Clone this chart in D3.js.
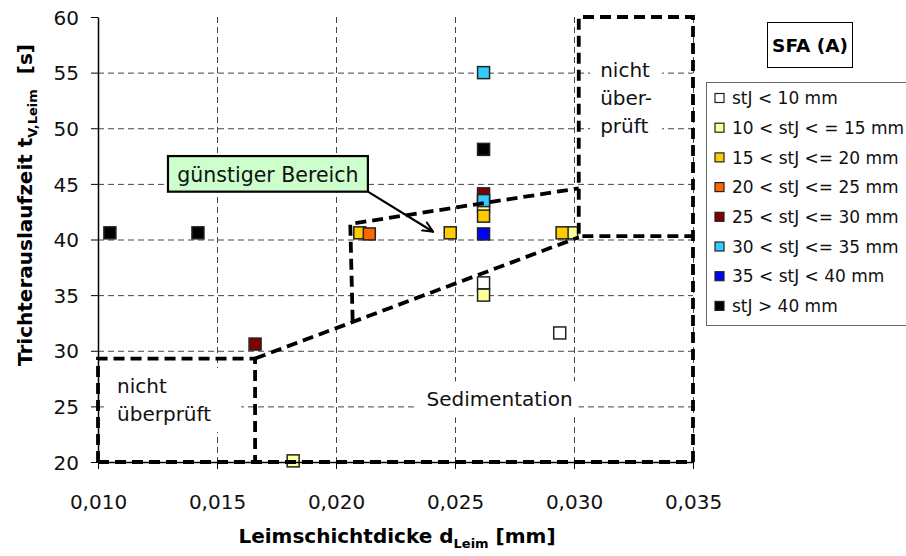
<!DOCTYPE html>
<html>
<head>
<meta charset="utf-8">
<script src="https://cdn.jsdelivr.net/npm/d3@7"></script>
<style>
  body { margin: 0; background: #fff; }
  svg { font-family: "DejaVu Sans", sans-serif; }
</style>
</head>
<body>
<div id="chart"></div>
<script>
// tick values
const X_TICKS = [0.010, 0.015, 0.020, 0.025, 0.030, 0.035];
const Y_TICKS = [20, 25, 30, 35, 40, 45, 50, 55, 60];

// legend classes (stJ)
const CLASSES = [
  "stJ < 10 mm",
  "10 < stJ < = 15 mm",
  "15 < stJ <= 20 mm",
  "20 < stJ <= 25 mm",
  "25 < stJ <= 30 mm",
  "30 < stJ <= 35 mm",
  "35 < stJ < 40 mm",
  "stJ > 40 mm",
];
const CLASS_COLORS = ["#ffffff", "#ffff99", "#ffcc00", "#ff6600", "#800000", "#33ccff", "#0000ff", "#000000"];

// measured points [d_Leim, t_V,Leim] per class
const STJ_0_10 = [[0.0262, 36.1], [0.0294, 31.6]];
const STJ_10_15 = [[0.0182, 20.1], [0.0262, 35.0], [0.0262, 43.0], [0.0299, 40.6]];
const STJ_15_20 = [[0.0210, 40.6], [0.0248, 40.6], [0.0262, 42.1], [0.0295, 40.6]];
const STJ_20_25 = [[0.0214, 40.5]];
const STJ_25_30 = [[0.0166, 30.6], [0.0262, 44.1]];
const STJ_30_35 = [[0.0262, 55.0], [0.0262, 43.5]];
const STJ_35_40 = [[0.0262, 40.5]];
const STJ_40_UP = [[0.0105, 40.6], [0.0142, 40.6], [0.0262, 48.1]];
const SERIES = [STJ_0_10, STJ_10_15, STJ_15_20, STJ_20_25, STJ_25_30, STJ_30_35, STJ_35_40, STJ_40_UP];

// region boundaries (data coordinates)
const BOUND_LEFT_BOX = [[0.0100, 20.0], [0.0100, 29.3], [0.0166, 29.3], [0.0166, 20.0]];
const BOUND_BOTTOM = [[0.0100, 20.0], [0.0350, 20.0]];
const BOUND_RIGHT_BOX = [[0.0350, 20.0], [0.0350, 60.0], [0.0302, 60.0], [0.0302, 40.3], [0.0350, 40.3]];
const BOUND_LOWER = [[0.0166, 29.3], [0.0302, 40.2]];
const BOUND_UPPER = [[0.0207, 32.7], [0.0206, 41.4], [0.0302, 44.6]];

// annotations
const ARROW = [[0.02134, 44.3], [0.02408, 40.7]];
const LABEL_BOX = [0.01294, 47.5, 0.02134, 44.3]; // x0, y0, x1, y1
const TEXT_LEFT = { x: 0.0108, y: 26.2, lines: ["nicht", "überprüft"] };
const TEXT_RIGHT = { x: 0.0311, y: 54.6, lines: ["nicht", "über-", "prüft"] };
const TEXT_SED = { x: 0.0238, y: 25.0, lines: ["Sedimentation"] };

const W = 906, H = 556;
const X0 = 98, X1 = 693, Y0 = 17, Y1 = 462;

const svg = d3.select("#chart").append("svg").attr("width", W).attr("height", H);
svg.append("rect").attr("width", W).attr("height", H).attr("fill", "#fff");

const x = d3.scaleLinear().domain([0.010, 0.035]).range([X0, X1]);
const y = d3.scaleLinear().domain([20, 60]).range([Y1, Y0]);
const loc = d3.formatLocale({ decimal: ",", thousands: ".", grouping: [3], currency: ["", " €"] });

// gridlines
const grid = svg.append("g").attr("stroke", "#444").attr("stroke-width", 1).attr("stroke-dasharray", "6 4");
grid.selectAll(".hg").data(Y_TICKS.filter(d => d > 20 && d < 60)).join("line")
  .attr("x1", X0).attr("x2", X1).attr("y1", d => y(d) + 0.5).attr("y2", d => y(d) + 0.5);
grid.selectAll(".vg").data(X_TICKS.filter(d => d > 0.010)).join("line")
  .attr("y1", Y0).attr("y2", Y1).attr("x1", d => x(d) + 0.5).attr("x2", d => x(d) + 0.5);

// white backed text blocks
function textBlock(t, pad) {
  const g = svg.append("g");
  const bg = g.append("rect").attr("fill", "#fff");
  const txt = g.append("text").attr("font-size", 20).attr("fill", "#111");
  t.lines.forEach((l, i) => {
    txt.append("tspan").attr("x", x(t.x)).attr("y", y(t.y) + i * 28).text(l);
  });
  const b = txt.node().getBBox();
  bg.attr("x", b.x - pad[0]).attr("y", b.y - pad[1]).attr("width", b.width + pad[0] + pad[2]).attr("height", b.height + pad[1] * 2);
}
textBlock(TEXT_LEFT, [12, 6, 30]);
textBlock(TEXT_RIGHT, [10, 6, 10]);
textBlock(TEXT_SED, [10, 6, 6]);

// points
const SIZE = 12;
SERIES.forEach((s, i) => {
  svg.append("g").selectAll("rect").data(s).join("rect")
    .attr("x", d => x(d[0]) - SIZE / 2).attr("y", d => y(d[1]) - SIZE / 2)
    .attr("width", SIZE).attr("height", SIZE)
    .attr("fill", CLASS_COLORS[i]).attr("stroke", "#222").attr("stroke-width", 1.5);
});

// region boundaries
const line = d3.line().x(d => x(d[0])).y(d => y(d[1]));
svg.append("g").selectAll("path")
  .data([BOUND_BOTTOM, BOUND_LEFT_BOX, BOUND_RIGHT_BOX, BOUND_LOWER, BOUND_UPPER])
  .join("path")
  .attr("d", line).attr("fill", "none").attr("stroke", "#000")
  .attr("stroke-width", 3.8).attr("stroke-dasharray", "11 6");

// arrow + label
svg.append("defs").append("marker").attr("id", "arr")
  .attr("viewBox", "0 0 12 12").attr("refX", 11).attr("refY", 6)
  .attr("markerWidth", 12).attr("markerHeight", 12).attr("markerUnits", "userSpaceOnUse")
  .attr("orient", "auto")
  .append("path").attr("d", "M0,1 L11,6 L0,11").attr("fill", "none").attr("stroke", "#000").attr("stroke-width", 2);
svg.append("path").attr("d", line(ARROW)).attr("stroke", "#000").attr("stroke-width", 2.2)
  .attr("fill", "none").attr("marker-end", "url(#arr)");
svg.append("rect")
  .attr("x", x(LABEL_BOX[0])).attr("y", y(LABEL_BOX[1]))
  .attr("width", x(LABEL_BOX[2]) - x(LABEL_BOX[0])).attr("height", y(LABEL_BOX[3]) - y(LABEL_BOX[1]))
  .attr("fill", "#ccffcc").attr("stroke", "#000").attr("stroke-width", 2.2);
svg.append("text").attr("x", (x(LABEL_BOX[0]) + x(LABEL_BOX[2])) / 2).attr("y", y(LABEL_BOX[3]) - 10)
  .attr("text-anchor", "middle").attr("font-size", 20.5).attr("fill", "#111").text("günstiger Bereich");

// axes
const yAxis = svg.append("g").attr("transform", `translate(${X0},0)`)
  .call(d3.axisLeft(y).tickValues(Y_TICKS).tickSize(7).tickSizeOuter(0).tickPadding(12));
const xAxis = svg.append("g").attr("transform", `translate(0,${Y1})`)
  .call(d3.axisBottom(x).tickValues(X_TICKS).tickFormat(loc.format(".3f")).tickSize(7).tickSizeOuter(0).tickPadding(26));
[yAxis, xAxis].forEach(a => {
  a.select(".domain").attr("stroke", "#000").attr("stroke-width", 1.5);
  a.selectAll(".tick line").attr("stroke", "#000");
  a.selectAll("text").attr("font-size", 20).attr("fill", "#111").attr("font-family", "DejaVu Sans");
});
yAxis.selectAll("text").attr("dy", "0.36em");

// axis titles
const xt = svg.append("text").attr("x", 397).attr("y", 543).attr("text-anchor", "middle")
  .attr("font-size", 20).attr("font-weight", "bold");
xt.append("tspan").text("Leimschichtdicke d");
xt.append("tspan").attr("font-size", 13).attr("dy", 5).text("Leim");
xt.append("tspan").attr("dy", -5).text(" [mm]");

const yt = svg.append("text").attr("transform", "translate(32,205) rotate(-90)").attr("text-anchor", "middle")
  .attr("font-size", 20).attr("font-weight", "bold");
yt.append("tspan").text("Trichterauslaufzeit t");
yt.append("tspan").attr("font-size", 13).attr("dy", 5).text("V,Leim");
yt.append("tspan").attr("dy", -5).attr("dx", 8).text(" [s]");

// title box
svg.append("rect").attr("x", 767.5).attr("y", 22.5).attr("width", 85).attr("height", 45)
  .attr("fill", "#fff").attr("stroke", "#000");
svg.append("text").attr("x", 810).attr("y", 52).attr("text-anchor", "middle")
  .attr("font-size", 18.5).attr("font-weight", "bold").text("SFA (A)");

// legend
const legend = svg.append("g");
legend.append("rect").attr("x", 706.5).attr("y", 82.5).attr("width", 210).attr("height", 243)
  .attr("fill", "#fff").attr("stroke", "#666");
const rows = legend.selectAll(".row").data(CLASSES).join("g")
  .attr("transform", (d, i) => `translate(0,${98 + i * 29.7})`);
rows.append("rect").attr("x", 715).attr("y", -4.5).attr("width", 9).attr("height", 9)
  .attr("fill", (d, i) => CLASS_COLORS[i]).attr("stroke", "#222").attr("stroke-width", 1.2);
rows.append("text").attr("x", 732).attr("y", 0).attr("dy", "0.36em")
  .attr("font-size", 17).attr("fill", "#111").text(d => d);
</script>
</body>
</html>
